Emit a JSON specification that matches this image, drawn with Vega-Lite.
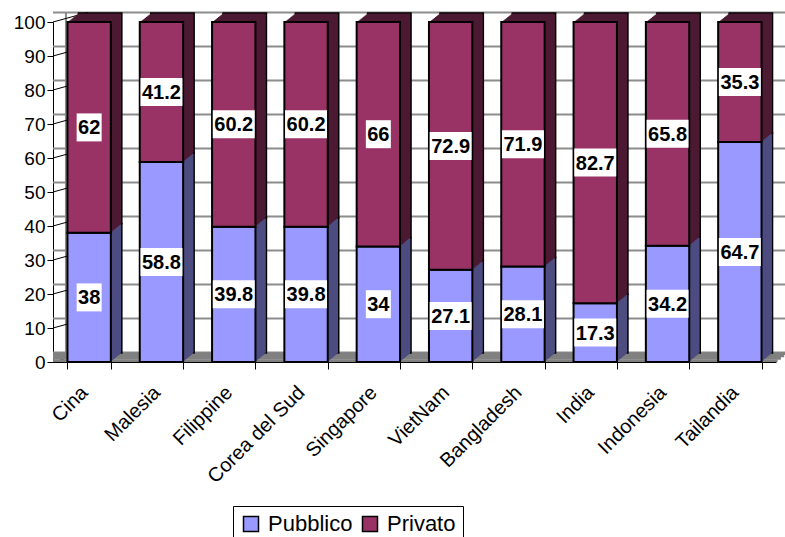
{
  "$schema": "https://vega.github.io/schema/vega-lite/v6.json",
  "width": 723,
  "height": 340,
  "autosize": "none",
  "padding": {"left": 53, "top": 22, "right": 9, "bottom": 175},
  "background": "white",
  "config": {
    "view": {"stroke": null},
    "font": "Liberation Sans",
    "axisX": {
      "labelAngle": -45,
      "labelFontSize": 20,
      "labelColor": "black",
      "labelFont": "Liberation Sans",
      "labelPadding": 13,
      "labelOffset": -12,
      "tickColor": "black",
      "tickSize": 7,
      "tickBand": "extent",
      "domainColor": "black",
      "domainWidth": 1,
      "grid": false
    },
    "axisY": {
      "labelFontSize": 19,
      "labelColor": "black",
      "labelFont": "Liberation Sans",
      "labelPadding": 2,
      "tickColor": "black",
      "tickSize": 6,
      "domainColor": "black",
      "domainWidth": 1,
      "grid": false
    }
  },
  "datasets": {
    "paesi": [
      {"paese": "Cina", "tipo": "Pubblico", "valore": 38},
      {"paese": "Cina", "tipo": "Privato", "valore": 62},
      {"paese": "Malesia", "tipo": "Pubblico", "valore": 58.8},
      {"paese": "Malesia", "tipo": "Privato", "valore": 41.2},
      {"paese": "Filippine", "tipo": "Pubblico", "valore": 39.8},
      {"paese": "Filippine", "tipo": "Privato", "valore": 60.2},
      {"paese": "Corea del Sud", "tipo": "Pubblico", "valore": 39.8},
      {"paese": "Corea del Sud", "tipo": "Privato", "valore": 60.2},
      {"paese": "Singapore", "tipo": "Pubblico", "valore": 34},
      {"paese": "Singapore", "tipo": "Privato", "valore": 66},
      {"paese": "VietNam", "tipo": "Pubblico", "valore": 27.1},
      {"paese": "VietNam", "tipo": "Privato", "valore": 72.9},
      {"paese": "Bangladesh", "tipo": "Pubblico", "valore": 28.1},
      {"paese": "Bangladesh", "tipo": "Privato", "valore": 71.9},
      {"paese": "India", "tipo": "Pubblico", "valore": 17.3},
      {"paese": "India", "tipo": "Privato", "valore": 82.7},
      {"paese": "Indonesia", "tipo": "Pubblico", "valore": 34.2},
      {"paese": "Indonesia", "tipo": "Privato", "valore": 65.8},
      {"paese": "Tailandia", "tipo": "Pubblico", "valore": 64.7},
      {"paese": "Tailandia", "tipo": "Privato", "valore": 35.3}
    ],
    "griglia": [
      {"v": 0}, {"v": 10}, {"v": 20}, {"v": 30}, {"v": 40}, {"v": 50},
      {"v": 60}, {"v": 70}, {"v": 80}, {"v": 90}, {"v": 100}
    ]
  },
  "layer": [
    {
      "data": {"name": "griglia"},
      "mark": {"type": "rule", "color": "#8c8c8c", "strokeWidth": 2, "xOffset": 13, "x2Offset": 13, "yOffset": -9.5},
      "encoding": {
        "y": {"field": "v", "type": "quantitative", "axis": {"title": null, "values": [0, 10, 20, 30, 40, 50, 60, 70, 80, 90, 100], "labelOverlap": false}}
      }
    },
    {
      "data": {"values": [{}]},
      "mark": {"type": "rule", "color": "#8c8c8c", "strokeWidth": 2, "xOffset": -1.5, "yOffset": -9.5, "y2Offset": -9.5},
      "encoding": {
        "x": {"datum": "Cina", "type": "nominal", "bandPosition": 0, "axis": {"title": null}},
        "y": {"datum": 0, "type": "quantitative", "axis": {"title": null, "values": [0, 10, 20, 30, 40, 50, 60, 70, 80, 90, 100], "labelOverlap": false}},
        "y2": {"datum": 100}
      }
    },
    {
      "data": {"name": "griglia"},
      "mark": {"type": "rule", "color": "black", "strokeWidth": 1, "x2Offset": -1.5, "y2Offset": -9.5},
      "encoding": {
        "x": {"datum": "Cina", "type": "nominal", "bandPosition": -0.3333, "axis": {"title": null}},
        "x2": {"datum": "Cina"},
        "y": {"field": "v", "type": "quantitative", "axis": {"title": null, "values": [0, 10, 20, 30, 40, 50, 60, 70, 80, 90, 100], "labelOverlap": false}},
        "y2": {"field": "v"}
      }
    },
    {
      "data": {"values": [{}]},
      "layer": [
        {"mark": {"type": "rule", "color": "#808080", "strokeWidth": 2.6, "xOffset": 1.6, "x2Offset": 1.6, "yOffset": -1.2}},
        {"mark": {"type": "rule", "color": "#808080", "strokeWidth": 2.6, "xOffset": 4.9, "x2Offset": 4.9, "yOffset": -3.6}},
        {"mark": {"type": "rule", "color": "#808080", "strokeWidth": 2.6, "xOffset": 8.2, "x2Offset": 8.2, "yOffset": -6.0}},
        {"mark": {"type": "rule", "color": "#808080", "strokeWidth": 2.6, "xOffset": 11.5, "x2Offset": 11.5, "yOffset": -8.4}}
      ],
      "encoding": {
        "y": {"datum": 0, "type": "quantitative", "axis": {"title": null, "values": [0, 10, 20, 30, 40, 50, 60, 70, 80, 90, 100], "labelOverlap": false}}
      }
    },
    {
      "data": {"name": "paesi"},
      "encoding": {
        "x": {
          "field": "paese",
          "type": "nominal",
          "scale": {
            "domain": ["Cina", "Malesia", "Filippine", "Corea del Sud", "Singapore", "VietNam", "Bangladesh", "India", "Indonesia", "Tailandia"],
            "paddingInner": 0.4,
            "paddingOuter": 0.2
          },
          "axis": {"title": null}
        },
        "y": {
          "field": "valore",
          "type": "quantitative",
          "stack": "zero",
          "scale": {"domain": [0, 100], "nice": false},
          "axis": {"title": null, "values": [0, 10, 20, 30, 40, 50, 60, 70, 80, 90, 100], "labelOverlap": false}
        },
        "order": {"field": "tipo", "sort": "descending"},
        "detail": {"field": "tipo"}
      },
      "layer": [
        {
          "encoding": {
            "fill": {"condition": {"test": "datum.tipo === 'Pubblico'", "value": "#4d4d80"}, "value": "#4d1a33"}
          },
          "layer": [
            {"mark": {"type": "bar", "xOffset": 11, "yOffset": -9, "y2Offset": -9, "stroke": "black", "strokeWidth": 1.5}},
            {"mark": {"type": "bar", "xOffset": 10, "yOffset": -8.18, "y2Offset": -8.18}},
            {"mark": {"type": "bar", "xOffset": 9, "yOffset": -7.36, "y2Offset": -7.36}},
            {"mark": {"type": "bar", "xOffset": 8, "yOffset": -6.55, "y2Offset": -6.55}},
            {"mark": {"type": "bar", "xOffset": 7, "yOffset": -5.73, "y2Offset": -5.73}},
            {"mark": {"type": "bar", "xOffset": 6, "yOffset": -4.91, "y2Offset": -4.91}},
            {"mark": {"type": "bar", "xOffset": 5, "yOffset": -4.09, "y2Offset": -4.09}},
            {"mark": {"type": "bar", "xOffset": 4, "yOffset": -3.27, "y2Offset": -3.27}},
            {"mark": {"type": "bar", "xOffset": 3, "yOffset": -2.45, "y2Offset": -2.45}},
            {"mark": {"type": "bar", "xOffset": 2, "yOffset": -1.64, "y2Offset": -1.64}},
            {"mark": {"type": "bar", "xOffset": 1, "yOffset": -0.82, "y2Offset": -0.82}}
          ]
        },
        {
          "mark": {"type": "bar", "stroke": "black", "strokeWidth": 2},
          "encoding": {
            "color": {
              "field": "tipo",
              "type": "nominal",
              "scale": {"domain": ["Pubblico", "Privato"], "range": ["#9999ff", "#993366"]},
              "legend": {
                "orient": "none",
                "legendX": 180,
                "legendY": 484,
                "direction": "horizontal",
                "title": null,
                "strokeColor": "black",
                "fillColor": "white",
                "padding": 7,
                "symbolType": "square",
                "symbolSize": 225,
                "symbolStrokeColor": "black",
                "symbolStrokeWidth": 1.5,
                "symbolOpacity": 1,
                "labelFontSize": 22,
                "labelFont": "Liberation Sans",
                "labelColor": "black",
                "labelOffset": 6,
                "columnPadding": 6
              }
            }
          }
        },
        {
          "transform": [{"filter": "datum.valore % 1 === 0"}],
          "mark": {"type": "tick", "orient": "horizontal", "thickness": 28, "size": 25, "color": "white", "opacity": 1},
          "encoding": {
            "y": {"field": "valore", "type": "quantitative", "stack": "zero", "bandPosition": 0.5, "axis": {"title": null, "values": [0, 10, 20, 30, 40, 50, 60, 70, 80, 90, 100], "labelOverlap": false}}
          }
        },
        {
          "transform": [{"filter": "datum.valore % 1 !== 0"}],
          "mark": {"type": "tick", "orient": "horizontal", "thickness": 28, "size": 42, "color": "white", "opacity": 1},
          "encoding": {
            "y": {"field": "valore", "type": "quantitative", "stack": "zero", "bandPosition": 0.5, "axis": {"title": null, "values": [0, 10, 20, 30, 40, 50, 60, 70, 80, 90, 100], "labelOverlap": false}}
          }
        },
        {
          "mark": {"type": "text", "font": "Liberation Sans", "fontWeight": "bold", "fontSize": 20, "color": "black", "align": "center", "baseline": "middle", "dy": 1},
          "encoding": {
            "y": {"field": "valore", "type": "quantitative", "stack": "zero", "bandPosition": 0.5, "axis": {"title": null, "values": [0, 10, 20, 30, 40, 50, 60, 70, 80, 90, 100], "labelOverlap": false}},
            "text": {"field": "valore", "type": "quantitative", "format": ""}
          }
        }
      ]
    }
  ]
}
